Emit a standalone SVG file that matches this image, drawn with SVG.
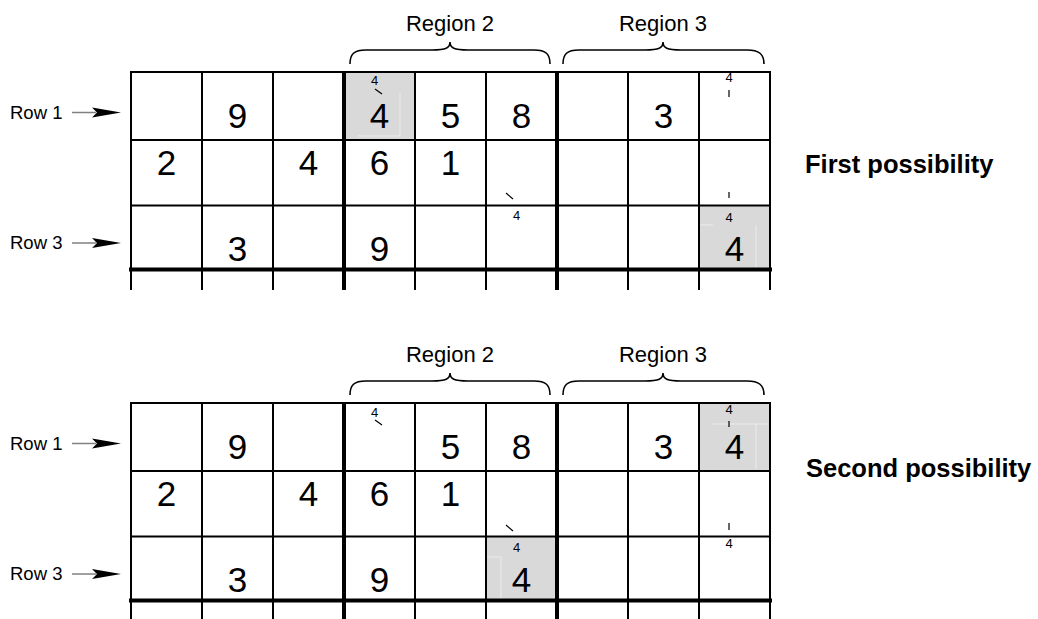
<svg xmlns="http://www.w3.org/2000/svg" xmlns:xlink="http://www.w3.org/1999/xlink" width="1038" height="619" viewBox="0 0 1038 619">
<style>
.thin{stroke:#000;stroke-width:2;fill:none}
.thick{stroke:#000;stroke-width:4;fill:none}
.big{font-family:"Liberation Sans",Arial,sans-serif;font-size:35px;text-anchor:middle;fill:#000}
.small{font-family:"Liberation Sans",Arial,sans-serif;font-size:13px;text-anchor:middle;fill:#000}
.lbl{font-family:"Liberation Sans",Arial,sans-serif;font-size:18.5px;fill:#000}
.reg{font-family:"Liberation Sans",Arial,sans-serif;font-size:22px;text-anchor:middle;fill:#000}
.poss{font-family:"Liberation Sans",Arial,sans-serif;font-size:25.5px;font-weight:bold;fill:#000}
.tick{stroke:#000;stroke-width:1.2}
.gray{fill:#d9d9d9}
.faint{stroke:#ececec;stroke-width:1;fill:none}
.brace{stroke:#000;stroke-width:1.6;fill:none}
.shaft{stroke:#808080;stroke-width:1.5}
</style>
<defs>
<g id="gridlines">
<path class="thin" d="M131,72H770M131,140H770M131,205.5H770"/>
<path class="thick" d="M129,269.5H772"/>
<path class="thin" d="M131,71V290M202,72V290M273,72V290M415,72V290M486,72V290M628,72V290M699,72V290M770,71V290"/>
<path class="thick" d="M344,72V290M557,72V290"/>
</g>
<g id="braces">
<path class="brace" d="M350,64 C350,54 354,50 366,50 L432,50 C446,50 450,48 450,42 C450,48 454,50 468,50 L534,50 C546,50 550,54 550,64"/>
<path class="brace" d="M563,64 C563,54 567,50 579,50 L645,50 C659,50 663,48 663,42 C663,48 667,50 681,50 L747,50 C759,50 764,54 764,64"/>
</g>
<g id="arrow">
<line class="shaft" x1="72" y1="0" x2="96" y2="0"/>
<polygon points="121,0 92,-5 97,0 92,5" fill="#000"/>
</g>
</defs>

<g id="top-grid">
<rect class="gray" x="344" y="72" width="71" height="68"/>
<rect class="gray" x="699" y="205.5" width="71" height="64"/>
<path class="faint" d="M400,93V136M358,136H400M700,225H713M756,225V268"/>
<use xlink:href="#gridlines"/>
<g id="top-digits">
<text class="big" x="237.5" y="128">9</text>
<text class="big" x="379.5" y="128">4</text>
<text class="big" x="450.5" y="128">5</text>
<text class="big" x="521.5" y="128">8</text>
<text class="big" x="663.5" y="128">3</text>
<text class="big" x="166.5" y="175">2</text>
<text class="big" x="308.5" y="175">4</text>
<text class="big" x="379.5" y="175">6</text>
<text class="big" x="450.5" y="175">1</text>
<text class="big" x="237.5" y="260.5">3</text>
<text class="big" x="379.5" y="260.5">9</text>
<text class="big" x="734.5" y="260.5">4</text>
</g>
<g id="top-marks">
<text class="small" x="374.5" y="85">4</text>
<line class="tick" x1="375" y1="89" x2="382" y2="94"/>
<text class="small" x="729" y="82">4</text>
<line class="tick" x1="729" y1="90" x2="729" y2="97"/>
<line class="tick" x1="506" y1="193" x2="513" y2="199"/>
<text class="small" x="516.5" y="220">4</text>
<line class="tick" x1="729" y1="192" x2="729" y2="198"/>
<text class="small" x="729" y="221.5">4</text>
</g>
</g>

<g id="bottom-grid">
<rect class="gray" x="699" y="403" width="71" height="67.5"/>
<rect class="gray" x="486" y="536.5" width="71" height="64"/>
<path class="faint" d="M713,424H768M756,424V469M501,557V599M487,557H501"/>
<use xlink:href="#gridlines" transform="translate(0,331)"/>
<g id="bottom-digits">
<text class="big" x="237.5" y="459">9</text>
<text class="big" x="450.5" y="459">5</text>
<text class="big" x="521.5" y="459">8</text>
<text class="big" x="663.5" y="459">3</text>
<text class="big" x="734.5" y="459">4</text>
<text class="big" x="166.5" y="506">2</text>
<text class="big" x="308.5" y="506">4</text>
<text class="big" x="379.5" y="506">6</text>
<text class="big" x="450.5" y="506">1</text>
<text class="big" x="237.5" y="591.5">3</text>
<text class="big" x="379.5" y="591.5">9</text>
<text class="big" x="521.5" y="591.5">4</text>
</g>
<g id="bottom-marks">
<text class="small" x="374.5" y="416.5">4</text>
<line class="tick" x1="375" y1="420" x2="382" y2="425"/>
<text class="small" x="729" y="414">4</text>
<line class="tick" x1="729" y1="421" x2="729" y2="427"/>
<line class="tick" x1="506" y1="525" x2="513" y2="531"/>
<text class="small" x="516.5" y="552">4</text>
<line class="tick" x1="729" y1="523" x2="729" y2="530"/>
<text class="small" x="729" y="548">4</text>
</g>
</g>

<g id="region-labels-top">
<use xlink:href="#braces"/>
<text class="reg" x="450" y="31">Region 2</text>
<text class="reg" x="663" y="31">Region 3</text>
</g>
<g id="region-labels-bottom">
<use xlink:href="#braces" transform="translate(0,331)"/>
<text class="reg" x="450" y="362">Region 2</text>
<text class="reg" x="663" y="362">Region 3</text>
</g>

<g id="row-labels">
<text class="lbl" x="10" y="118.5">Row 1</text>
<text class="lbl" x="10" y="249">Row 3</text>
<text class="lbl" x="10" y="449.5">Row 1</text>
<text class="lbl" x="10" y="580">Row 3</text>
</g>
<g id="connectors">
<use xlink:href="#arrow" transform="translate(0,112.5)"/>
<use xlink:href="#arrow" transform="translate(0,243)"/>
<use xlink:href="#arrow" transform="translate(0,443.5)"/>
<use xlink:href="#arrow" transform="translate(0,574)"/>
</g>

<g id="captions">
<text class="poss" x="805" y="173">First possibility</text>
<text class="poss" x="806" y="477">Second possibility</text>
</g>
</svg>
